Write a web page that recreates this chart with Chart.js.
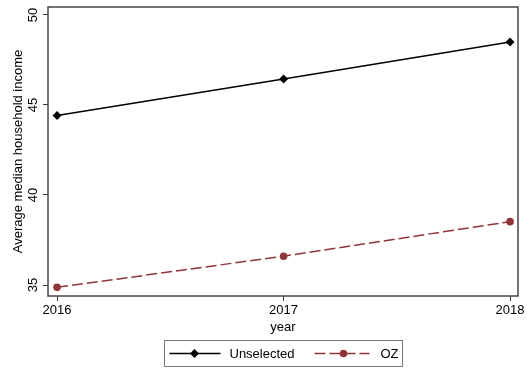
<!DOCTYPE html>
<html>
<head>
<meta charset="utf-8">
<script src="https://cdn.jsdelivr.net/npm/chart.js@4.4.1/dist/chart.umd.min.js"></script>
<style>
  body { margin: 0; background: #fff; }
  canvas { display: block; }
</style>
</head>
<body>
<canvas id="income" width="527" height="368"></canvas>
<script>
// data
const years = [2016, 2017, 2018];
const unselected = [44.41, 46.44, 48.49];
const oz = [34.87, 36.6, 38.52];
const yTicks = [35, 40, 45, 50];
const seriesNames = ["Unselected", "OZ"];

const FONT = "'Liberation Sans', Arial, Helvetica, sans-serif";
const RED = "#903539";

function pairs(vals) {
    return years.map(function (y, i) { return { x: y, y: vals[i] }; });
}

function diamond(ctx, x, y, r) {
    ctx.beginPath();
    ctx.moveTo(x, y - r);
    ctx.lineTo(x + r, y);
    ctx.lineTo(x, y + r);
    ctx.lineTo(x - r, y);
    ctx.closePath();
    ctx.fill();
}

// box round the plot, vertical y labels, legend under the axis
const frame = {
    id: 'frame',
    afterDraw(chart) {
        const ctx = chart.ctx;
        const a = chart.chartArea;
        const ys = chart.scales.y;
        ctx.save();
        ctx.strokeStyle = '#444';
        ctx.lineWidth = 1.5;
        ctx.strokeRect(a.left, a.top, a.right - a.left, a.bottom - a.top);

        ctx.fillStyle = '#000';
        ctx.font = '13px ' + FONT;
        ctx.textAlign = 'center';
        ctx.textBaseline = 'middle';
        ys.ticks.forEach(function (t) {
            const py = ys.getPixelForValue(t.value);
            ctx.save();
            ctx.translate(a.left - 15, py);
            ctx.rotate(-Math.PI / 2);
            ctx.fillText(String(t.value), 0, 0);
            ctx.restore();
        });

        // legend
        const cx = (a.left + a.right) / 2;
        const bx = Math.round(cx - 119) + 0.5;
        const by = Math.round(a.bottom + 44) + 0.5;
        const mid = by + 13;
        ctx.strokeStyle = '#777';
        ctx.lineWidth = 1;
        ctx.strokeRect(bx, by, 238, 26);

        const d0 = chart.data.datasets[0];
        const d1 = chart.data.datasets[1];
        ctx.lineWidth = 1.5;
        ctx.strokeStyle = d0.borderColor;
        ctx.beginPath();
        ctx.moveTo(bx + 5, mid);
        ctx.lineTo(bx + 56, mid);
        ctx.stroke();
        ctx.fillStyle = d0.pointBackgroundColor;
        diamond(ctx, bx + 30, mid, 4.5);

        ctx.strokeStyle = d1.borderColor;
        ctx.setLineDash(d1.borderDash);
        ctx.beginPath();
        ctx.moveTo(bx + 150, mid);
        ctx.lineTo(bx + 205, mid);
        ctx.stroke();
        ctx.setLineDash([]);
        ctx.fillStyle = d1.pointBackgroundColor;
        ctx.beginPath();
        ctx.arc(bx + 179, mid, 3.8, 0, Math.PI * 2);
        ctx.fill();

        ctx.fillStyle = '#000';
        ctx.textAlign = 'left';
        ctx.fillText(d0.label, bx + 65, mid + 1);
        ctx.fillText(d1.label, bx + 216, mid + 1);
        ctx.restore();
    }
};

new Chart(document.getElementById('income'), {
    type: 'line',
    data: {
        datasets: [
            {
                label: seriesNames[0],
                data: pairs(unselected),
                borderColor: '#000',
                borderWidth: 1.5,
                pointStyle: 'rectRot',
                pointRadius: 4.5,
                pointBackgroundColor: '#000',
                pointBorderWidth: 0,
                fill: false
            },
            {
                label: seriesNames[1],
                data: pairs(oz),
                borderColor: RED,
                borderWidth: 1.5,
                borderDash: [11, 4],
                pointStyle: 'circle',
                pointRadius: 3.8,
                pointBackgroundColor: RED,
                pointBorderWidth: 0,
                fill: false
            }
        ]
    },
    options: {
        responsive: false,
        animation: false,
        layout: { padding: { left: 0, right: 9, top: 7, bottom: 32 } },
        plugins: {
            legend: { display: false },
            tooltip: { enabled: false }
        },
        scales: {
            x: {
                type: 'linear',
                min: 2015.96,
                max: 2018.035,
                afterBuildTicks: function (s) { s.ticks = years.map(function (v) { return { value: v }; }); },
                afterFit: function (s) { s.height = 40; },
                border: { display: false },
                grid: { drawOnChartArea: false, drawTicks: true, tickLength: 5, color: '#333' },
                ticks: {
                    padding: 2,
                    color: '#000',
                    font: { family: FONT, size: 13 },
                    maxRotation: 0,
                    callback: function (v) { return String(v); }
                },
                title: {
                    display: true,
                    text: 'year',
                    color: '#000',
                    font: { family: FONT, size: 13 },
                    padding: { top: 0, bottom: 1 }
                }
            },
            y: {
                min: 34.39,
                max: 50.44,
                afterBuildTicks: function (s) { s.ticks = yTicks.map(function (v) { return { value: v }; }); },
                afterFit: function (s) { s.width = 48; },
                border: { display: false },
                grid: { drawOnChartArea: false, drawTicks: true, tickLength: 5, color: '#333' },
                ticks: { display: false },
                title: {
                    display: true,
                    text: 'Average median household income',
                    color: '#000',
                    font: { family: FONT, size: 13 },
                    padding: { top: 11, bottom: 0 }
                }
            }
        }
    },
    plugins: [frame]
});
</script>
</body>
</html>
